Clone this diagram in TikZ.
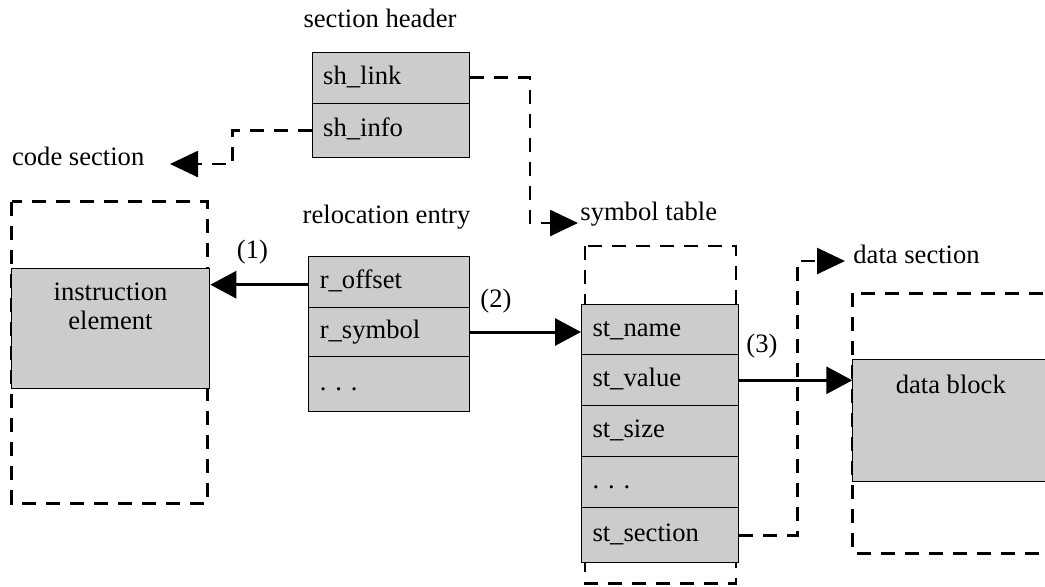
\documentclass[tikz,border=0pt]{standalone}
\usepackage{fontspec}
\setmainfont{Liberation Serif}
\usetikzlibrary{arrows.meta}
\definecolor{boxgray}{HTML}{CCCCCC}
\begin{document}
\begin{tikzpicture}[x=0.5pt,y=-0.5pt,
  font=\fontsize{13.3}{16}\selectfont,
  cell/.style={draw, fill=boxgray, line width=0.5pt, anchor=north west,
    inner xsep=5.5pt, inner ysep=0pt, align=left, minimum width=#1, text width=#1-11pt},
  block/.style={draw, fill=boxgray, line width=0.5pt, anchor=north west, inner sep=0pt},
  dbox/.style={line width=1.4pt, dash pattern=on 7pt off 5pt},
  dconn/.style={line width=1.3pt, dash pattern=on 7pt off 5pt,
    -{Triangle[length=14pt,width=13pt]}},
  sconn/.style={line width=1.5pt, -{Triangle[length=13pt,width=13.5pt]}},
  lbl/.style={inner sep=0pt}
]
\useasboundingbox (0,0) rectangle (1045,586);

% dashed section boxes (behind)
\draw[dbox] (11.7,201.7) rectangle (207.3,503.3);
\draw[dbox] (585,246) rectangle (736,583.3);
\draw[dbox] (852.7,293.3) rectangle (1060,553.3);

% section header
\node[lbl, anchor=base] (shlbl) at (380,27) {section header};
\node[cell=78.8pt, minimum height=25.5pt] (shlink) at (311.7,51.7) {\strut sh\_link};
\node[cell=78.8pt, minimum height=27pt] (shinfo) at (311.7,102.7) {\strut sh\_info};

% code section
\node[lbl, anchor=base west] (codelbl) at (11.7,165.5) {code section};
\node[block, minimum width=99.3pt, minimum height=60.3pt] (instr) at (10.7,267.7) {};
\node[lbl, anchor=north, align=center, font=\fontsize{13.3}{14.65}\selectfont] (instrtext)
  at ([yshift=-7.4pt]instr.north) {instruction\\element};

% relocation entry
\node[lbl, anchor=base west] (rellbl) at (302.3,223) {relocation entry};
\node[cell=80.5pt, minimum height=25.5pt] (reloff) at (308.3,255.7) {\strut r\_offset};
\node[cell=80.5pt, minimum height=24.8pt] (relsym) at (308.3,306.7) {\strut r\_symbol};
\node[cell=80.5pt, minimum height=27.35pt] (reldots) at (308.3,356.3) {\strut .\ .\ .};

% symbol table
\node[lbl, anchor=base west] (symlbl) at (580,220) {symbol table};
\node[cell=78.65pt, minimum height=25pt] (stname) at (581,304.3) {\strut st\_name};
\node[cell=78.65pt, minimum height=25.5pt] (stvalue) at (581,354.3) {\strut st\_value};
\node[cell=78.65pt, minimum height=25.5pt] (stsize) at (581,405.3) {\strut st\_size};
\node[cell=78.65pt, minimum height=25.5pt] (stdots) at (581,456.3) {\strut .\ .\ .};
\node[cell=78.65pt, minimum height=27.5pt] (stsect) at (581,507.3) {\strut st\_section};

% data section
\node[lbl, anchor=base west] (datalbl) at (853,263.3) {data section};
\node[block, minimum width=98pt, minimum height=60.85pt] (dblock) at (852.3,359.3) {};
\node[lbl, anchor=north] (dblocktext) at ([yshift=-7.6pt]dblock.north) {data block};

% step labels
\node[lbl] (one) at (252.5,252.5) {(1)};
\node[lbl] (two) at (496,301.5) {(2)};
\node[lbl] (three) at (762,346) {(3)};

% solid connectors
\draw[sconn] ([yshift=-1.5pt]reloff.west) -- ([yshift=-1.5pt]reloff.west -| instr.east);
\draw[sconn] (relsym.east) -- (relsym.east -| stname.west);
\draw[sconn] (stvalue.east) -- (stvalue.east -| dblock.west);

% dashed connectors
\coordinate (b1) at (530,223);
\coordinate (t1) at (578,223);
\draw[dconn] (shlink.east) -| (b1) -- (t1);
\coordinate (b2) at (232.7,164);
\coordinate (t2) at (170,164);
\draw[dconn] (shinfo.west) -| (b2) -- (t2);
\coordinate (b3) at (797.3,261);
\coordinate (t3) at (845,261);
\draw[dconn] (stsect.east) -| (b3) -- (t3);
\end{tikzpicture}
\end{document}
